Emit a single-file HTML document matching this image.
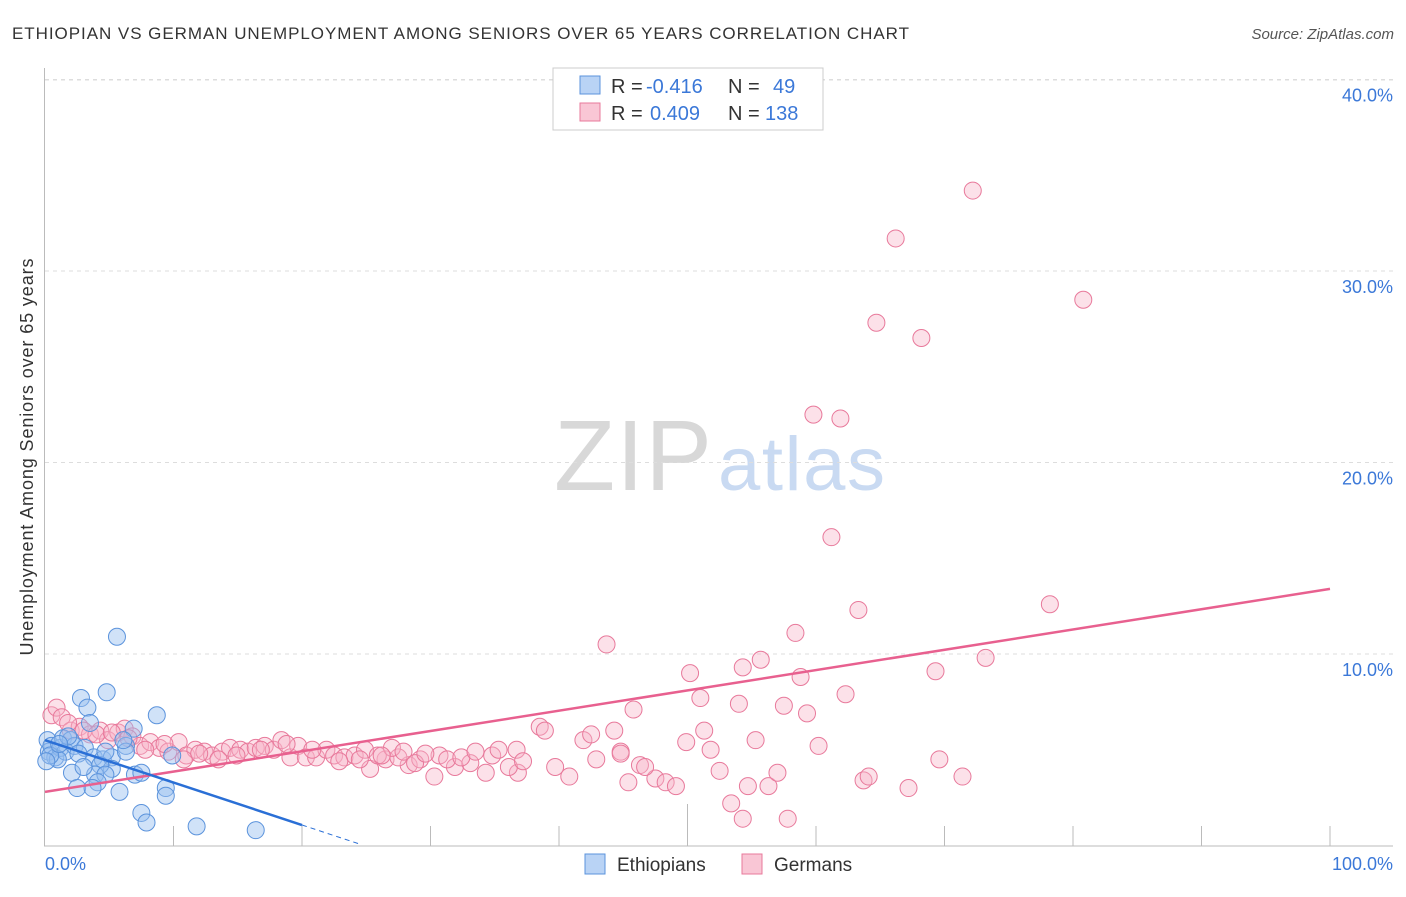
<!DOCTYPE html>
<html><head><meta charset="utf-8"><style>
body{margin:0;background:#fff;font-family:"Liberation Sans",sans-serif}
svg text{font-family:"Liberation Sans",sans-serif}
</style></head><body>
<svg id="chart" width="1406" height="892">
<text x="12" y="39" font-size="17" fill="#333" textLength="897">ETHIOPIAN VS GERMAN UNEMPLOYMENT AMONG SENIORS OVER 65 YEARS CORRELATION CHART</text>
<text x="1394" y="39" font-size="15" fill="#555" font-style="italic" text-anchor="end">Source: ZipAtlas.com</text>
<text x="712" y="490" font-size="100" fill="#d8d8d8" font-family="Liberation Serif" text-anchor="end" textLength="158">ZIP</text>
<text x="718" y="490" font-size="76" fill="#c9daf2" textLength="167">atlas</text>
<g id="grid"></g>
<g id="axes"></g>
<g id="pts"></g>
<g id="trend"></g>
<text transform="translate(33,457) rotate(-90)" font-size="18" fill="#333" text-anchor="middle" textLength="397">Unemployment Among Seniors over 65 years</text>
<text x="45" y="870" font-size="18" fill="#3b78d8">0.0%</text>
<text x="1393" y="870" font-size="18" fill="#3b78d8" text-anchor="end">100.0%</text>
<g>
<rect x="553" y="68" width="270" height="62" fill="#fff" stroke="#ccc"/>
<rect x="580" y="76" width="20" height="18" fill="#b9d3f5" stroke="#5b93dc"/>
<rect x="580" y="103" width="20" height="18" fill="#f9c6d5" stroke="#e8799b"/>
<text x="611" y="93" font-size="20" fill="#333">R =</text>
<text x="646" y="93" font-size="20" fill="#3b78d8">-0.416</text>
<text x="728" y="93" font-size="20" fill="#333">N =</text>
<text x="773" y="93" font-size="20" fill="#3b78d8">49</text>
<text x="611" y="120" font-size="20" fill="#333">R =</text>
<text x="650" y="120" font-size="20" fill="#3b78d8">0.409</text>
<text x="728" y="120" font-size="20" fill="#333">N =</text>
<text x="765" y="120" font-size="20" fill="#3b78d8">138</text>
</g>
<g><rect x="585" y="854" width="20" height="20" fill="#b9d3f5" stroke="#5b93dc"/><text x="617" y="871" font-size="19" fill="#333">Ethiopians</text></g>
<g><rect x="742" y="854" width="20" height="20" fill="#f9c6d5" stroke="#e8799b"/><text x="774" y="871" font-size="19" fill="#333">Germans</text></g>
</svg>
<script>
const yTicks=[10,20,30,40];
const yTickLabels=["10.0%","20.0%","30.0%","40.0%"];
const xTicks=[10,20,30,40,50,60,70,80,90,100];
const blueX=[5.6,4.8,2.8,3.3,8.7,3.5,6.9,0.2,0.3,0.5,0.8,1.2,1.4,2.0,1.6,2.3,1.0,3.1,3.8,4.5,5.2,6.3,6.3,5.2,4.3,2.1,3.9,4.7,4.1,2.5,3.7,5.8,7.0,7.5,9.4,9.4,7.5,7.9,11.8,16.4,9.9,4.7,6.1,0.4,1.8,2.6,0.1,1.1,3.0];
const blueY=[10.9,8.0,7.7,7.2,6.8,6.4,6.1,5.5,4.9,5.2,4.6,5.1,5.6,5.5,4.9,5.2,4.5,5.1,4.6,4.5,4.6,5.2,4.9,4.0,4.2,3.8,3.7,3.7,3.3,3.0,3.0,2.8,3.7,3.8,3.0,2.6,1.7,1.2,1.0,0.8,4.7,4.9,5.5,4.7,5.7,4.8,4.4,5.3,4.1];
const pinkX=[72.2,66.2,80.8,64.7,68.2,59.8,61.9,61.2,63.3,78.2,58.4,43.7,73.2,55.7,54.3,69.3,50.2,58.8,51.0,54.0,62.3,57.5,45.8,59.3,51.3,55.3,60.2,49.9,51.8,38.5,38.9,41.9,42.5,44.3,44.8,54.3,53.4,57.8,54.7,56.3,52.5,57.0,47.5,48.3,49.1,45.4,46.3,46.7,40.8,39.7,42.9,44.8,36.8,36.1,34.3,30.3,31.9,33.1,34.8,36.7,37.2,63.7,64.1,67.2,71.4,69.6,25.3,28.3,30.7,31.3,32.4,33.5,35.3,26.5,27.5,29.2,0.5,0.9,1.3,2.0,2.7,3.5,4.3,4.9,5.7,6.2,6.8,7.4,8.2,8.9,9.6,10.4,11.0,11.7,12.4,13.0,13.8,14.4,15.2,15.8,16.4,17.1,17.8,18.4,19.1,19.7,20.3,21.1,21.9,22.5,23.3,24.1,24.9,25.9,27.0,27.9,1.8,3.0,4.0,5.2,6.5,7.8,9.3,10.8,12.0,13.5,14.9,16.8,18.8,20.8,22.9,24.5,26.2,28.8,29.6];
const pinkY=[34.2,31.7,28.5,27.3,26.5,22.5,22.3,16.1,12.3,12.6,11.1,10.5,9.8,9.7,9.3,9.1,9.0,8.8,7.7,7.4,7.9,7.3,7.1,6.9,6.0,5.5,5.2,5.4,5.0,6.2,6.0,5.5,5.8,6.0,4.9,1.4,2.2,1.4,3.1,3.1,3.9,3.8,3.5,3.3,3.1,3.3,4.2,4.1,3.6,4.1,4.5,4.8,3.8,4.1,3.8,3.6,4.1,4.3,4.7,5.0,4.4,3.4,3.6,3.0,3.6,4.5,4.0,4.2,4.7,4.5,4.6,4.9,5.0,4.5,4.6,4.5,6.8,7.2,6.7,6.0,6.2,5.8,6.0,5.5,5.9,6.1,5.7,5.2,5.4,5.1,4.9,5.4,4.7,5.0,4.9,4.7,4.9,5.1,5.0,4.9,5.1,5.2,5.0,5.5,4.6,5.2,4.6,4.6,5.0,4.7,4.6,4.7,5.0,4.7,5.1,4.9,6.4,6.0,5.8,5.9,5.6,5.0,5.3,4.5,4.8,4.5,4.7,5.0,5.3,5.0,4.4,4.5,4.7,4.3,4.8];
const blueTrend=[5.5,1.07];   // y at x=0 and x=20
const pinkTrend=[2.8,13.4];   // y at x=0 and x=100
const X=v=>45+v*12.85, Y=v=>845.5-v*19.15;
const NS="http://www.w3.org/2000/svg";
function mk(tag,attrs,parent){const e=document.createElementNS(NS,tag);for(const k in attrs)e.setAttribute(k,attrs[k]);document.getElementById(parent).appendChild(e);return e;}
yTicks.forEach((t,i)=>{
 const l=mk('line',{x1:45,x2:1393,y1:Y(t),y2:Y(t),stroke:'#ddd','stroke-dasharray':'4,4'},'grid');
 
 
 const tx=mk('text',{x:1393,y:Y(t)+22,'font-size':18,fill:'#3b78d8','text-anchor':'end'},'grid');
 tx.textContent=yTickLabels[i];
 
 
});
const tl=mk('line',{x1:45,x2:1393,y1:80,y2:80,stroke:'#ddd','stroke-dasharray':'4,4'},'grid');


const ya=mk('line',{x1:44.5,x2:44.5,y1:68,y2:846,stroke:'#bbb'},'axes');


const xa=mk('line',{x1:44,x2:1393,y1:846,y2:846,stroke:'#bbb'},'axes');


xTicks.forEach(t=>{
 const l=mk('line',{x1:X(t),x2:X(t),y1:t===50?804:826,y2:846,stroke:'#bbb'},'axes');
 
 
});
pinkX.forEach((v,i)=>{
 const c=mk('circle',{cx:X(v),cy:Y(pinkY[i]),r:8.5,fill:'rgba(248,180,200,0.4)',stroke:'#e8799b','stroke-width':1},'pts');
 
 
});
blueX.forEach((v,i)=>{
 const c=mk('circle',{cx:X(v),cy:Y(blueY[i]),r:8.5,fill:'rgba(150,190,240,0.45)',stroke:'#5b93dc','stroke-width':1},'pts');
 
 
});
const pt=mk('line',{x1:X(0),y1:Y(pinkTrend[0]),x2:X(100),y2:Y(pinkTrend[1]),stroke:'#e8608f','stroke-width':2.5},'trend');


const bt=mk('line',{x1:X(0),y1:Y(blueTrend[0]),x2:X(20),y2:Y(blueTrend[1]),stroke:'#2a6fd6','stroke-width':2.5},'trend');


const s=(blueTrend[1]-blueTrend[0])/20;
const bd=mk('line',{x1:X(20),y1:Y(blueTrend[1]),x2:X(24.4),y2:Y(blueTrend[0]+s*24.4),stroke:'#2a6fd6','stroke-width':1,'stroke-dasharray':'5,4'},'trend');


</script>
</body></html>
